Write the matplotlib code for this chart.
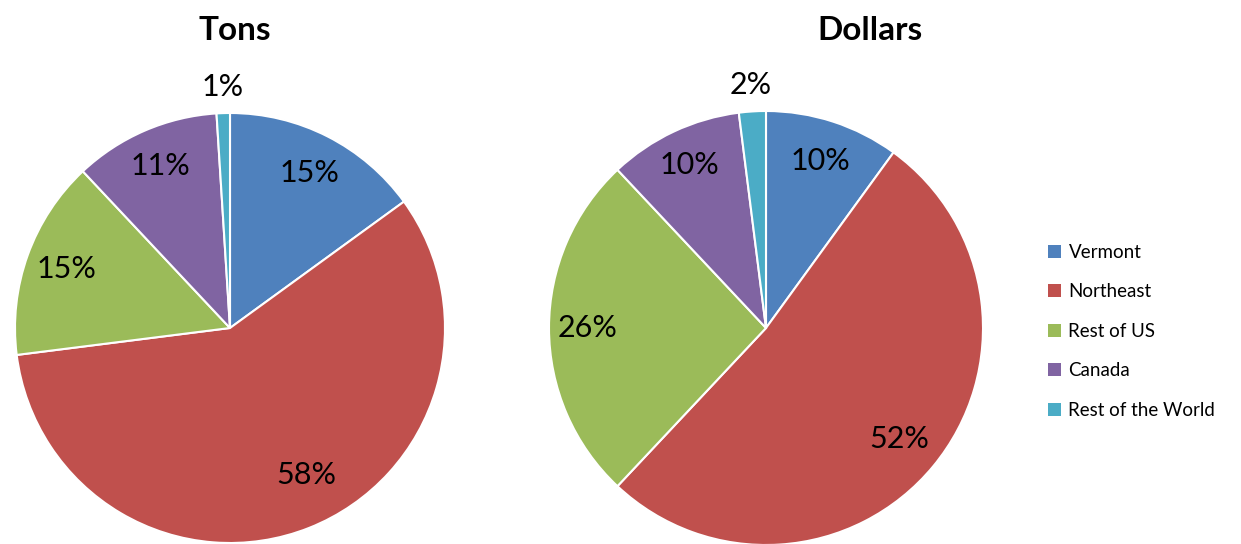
import numpy as np
import matplotlib.pyplot as plt
from matplotlib.patches import Patch

# Datos de los dos gráficos de torta
regiones = ["Vermont", "Northeast", "Rest of US", "Canada", "Rest of the World"]
toneladas = [15, 58, 15, 11, 1]
dolares = [10, 52, 26, 10, 2]
colores = ["#4F81BD", "#C0504D", "#9BBB59", "#8064A2", "#4BACC6"]

plt.rcParams['font.family'] = ['Lato', 'DejaVu Sans']

W, H = 1241, 544
fig = plt.figure(figsize=(W / 100, H / 100), dpi=100)


def torta(cx, cy, r, valores, titulo, tx, dist, giro):
    # Ejes en coordenadas de pixeles de la figura
    ax = fig.add_axes([(cx - r) / W, (H - cy - r) / H, 2 * r / W, 2 * r / H])
    wedges, textos, pcts = ax.pie(valores, colors=colores, startangle=90,
                                  counterclock=False, autopct='%1.0f%%',
                                  pctdistance=0.81,
                                  wedgeprops=dict(edgecolor='white', linewidth=1.5),
                                  textprops=dict(fontsize=22, color='black'))
    # Reubicar cada etiqueta a su distancia del centro
    for w, t, d, g in zip(wedges, pcts, dist, giro):
        ang = np.deg2rad((w.theta1 + w.theta2) / 2.0 + g)
        t.set_position((d * np.cos(ang), d * np.sin(ang)))
    ax.set_xlim(-1, 1)
    ax.set_ylim(-1, 1)
    ax.set_aspect('equal')
    ax.axis('off')
    fig.text(tx / W, (H - 30) / H, titulo, fontsize=24, fontweight='bold',
             ha='center', va='center')


torta(230, 328, 215, toneladas, "Tons", 235,
      [0.81, 0.77, 0.81, 0.82, 1.12], [0, 6, 0, 0, 0])
torta(766, 328, 217, dolares, "Dollars", 870,
      [0.81, 0.80, 0.82, 0.83, 1.12], [0, 0, 0, 0, 0])

handles = [Patch(facecolor=c, edgecolor='none') for c in colores]
fig.legend(handles, regiones, loc='upper left',
           bbox_to_anchor=(1031 / W, (H - 227) / H), frameon=False,
           fontsize=13.5, handlelength=0.7, handleheight=0.7,
           handletextpad=0.4, labelspacing=1.2)

fig.savefig("out.png", dpi=100)
